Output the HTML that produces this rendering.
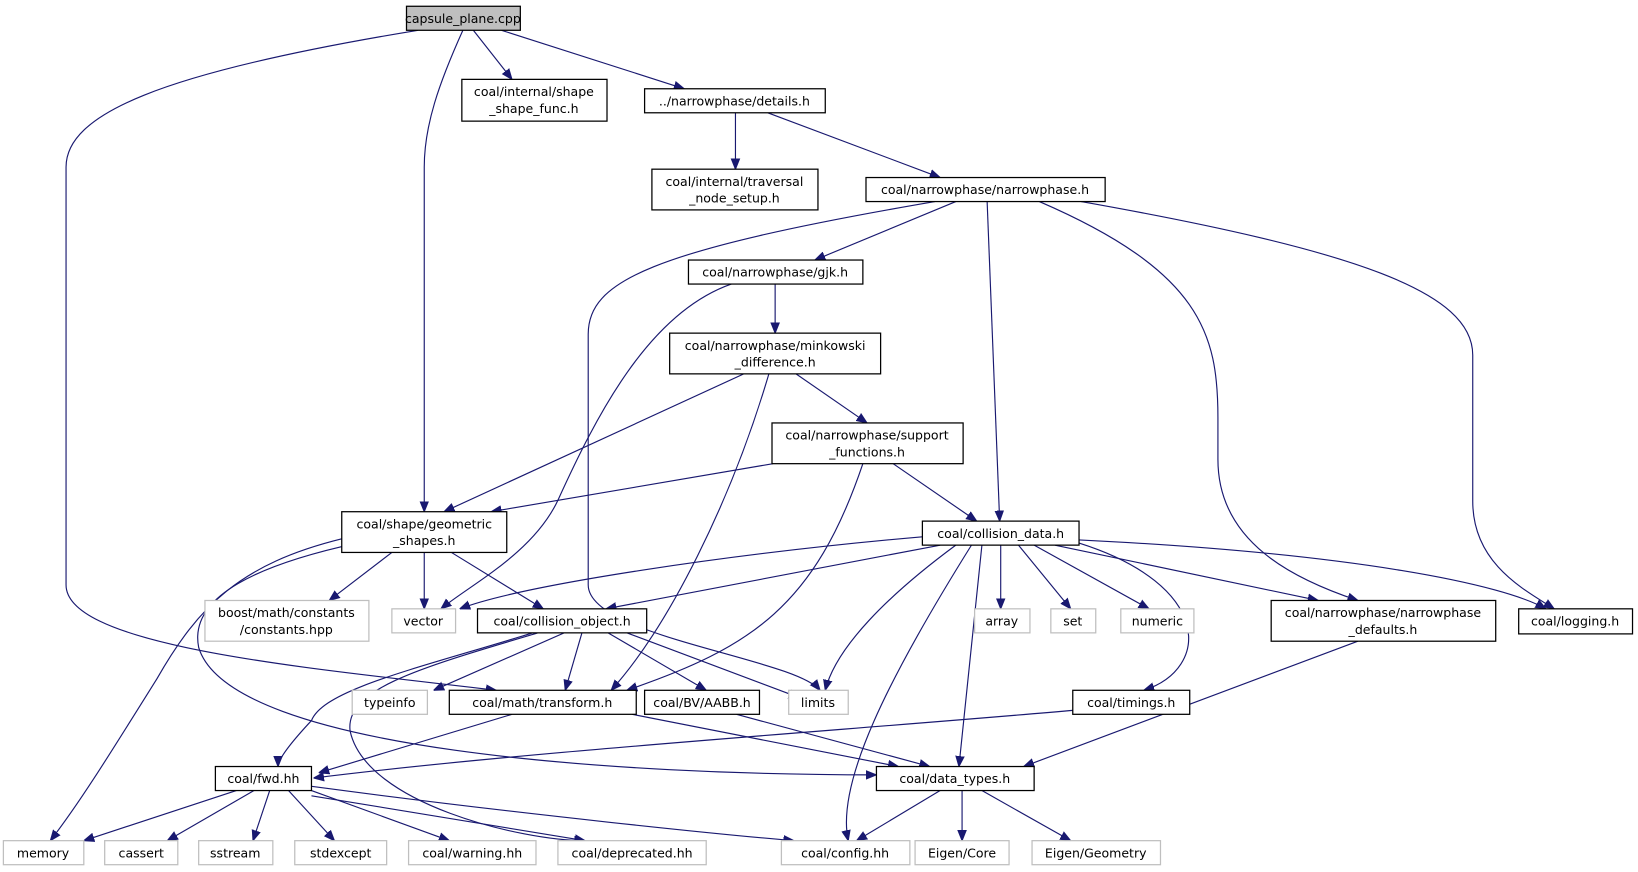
<!DOCTYPE html>
<html><head><meta charset="utf-8"><style>
html,body{margin:0;padding:0;background:#fff;}
svg{display:block;}
text{font-family:"DejaVu Sans","Liberation Sans",sans-serif;font-size:12px;fill:#000;text-anchor:middle;}
.n{fill:#fff;stroke:#000;stroke-width:1.2;}
.g{fill:#fff;stroke:#bfbfbf;stroke-width:1.2;}
.r{fill:#bfbfbf;stroke:#000;stroke-width:1.2;}
path.e{fill:none;stroke:#191970;stroke-width:1.1;marker-end:url(#a);}
</style></head><body>
<svg width="1638" height="872" viewBox="0 0 1568 835" xmlns="http://www.w3.org/2000/svg">
<defs><marker id="a" viewBox="0 0 10 10" refX="10" refY="5" markerWidth="10" markerHeight="10" markerUnits="userSpaceOnUse" orient="auto"><path d="M0,1 L10,5 L0,9 z" fill="#191970" stroke="#191970"/></marker></defs>

<path class="e" d="M453,29 L490,76"/>
<path class="e" d="M480,29 L655,85"/>
<path class="e" d="M443,29 C420,80 406,120 406,160 L406,490"/>
<path class="e" d="M400,29 C150,70 63,110 63,160 L63,560 C63,620 300,640 475,661"/>
<path class="e" d="M704,108 L704,162"/>
<path class="e" d="M735,108 L900,170"/>
<path class="e" d="M915,193 L780,249"/>
<path class="e" d="M895,193 C620,240 563,270 563,320 L563,560 C563,610 760,630 785,661"/>
<path class="e" d="M945,193 L957,499"/>
<path class="e" d="M995,193 C1150,260 1166,320 1166,400 L1166,440 C1166,520 1240,555 1300,575"/>
<path class="e" d="M1035,193 C1300,240 1410,280 1410,340 L1410,480 C1410,540 1460,565 1488,583"/>
<path class="e" d="M742,272 L742,319"/>
<path class="e" d="M700,272 C620,300 570,400 534,479 C510,530 450,560 422,583"/>
<path class="e" d="M712,358 L425,490"/>
<path class="e" d="M736,358 C700,480 640,600 585,661"/>
<path class="e" d="M762,358 L830,405"/>
<path class="e" d="M740,444 L470,490"/>
<path class="e" d="M826,444 C780,580 720,620 600,661"/>
<path class="e" d="M855,444 L935,499"/>
<path class="e" d="M327,516 C230,540 190,580 150,650 C100,730 75,770 48,805"/>
<path class="e" d="M375,529 L315,575"/>
<path class="e" d="M406,529 L406,583"/>
<path class="e" d="M432,529 L520,583"/>
<path class="e" d="M342,520 C250,540 180,570 190,620 C220,720 600,742 839,742"/>
<path class="e" d="M883,514 C700,530 500,560 440,583"/>
<path class="e" d="M900,522 L580,583"/>
<path class="e" d="M915,522 C850,570 800,620 790,661"/>
<path class="e" d="M930,522 C850,650 800,750 812,805"/>
<path class="e" d="M940,522 L918,734"/>
<path class="e" d="M958,522 L958,583"/>
<path class="e" d="M975,522 L1025,583"/>
<path class="e" d="M990,522 L1100,583"/>
<path class="e" d="M1010,522 L1262,575"/>
<path class="e" d="M1033,517 C1300,530 1440,560 1480,583"/>
<path class="e" d="M1033,520 C1160,560 1160,640 1095,661"/>
<path class="e" d="M510,606 C400,640 310,660 298,690 C270,720 266,730 266,734"/>
<path class="e" d="M540,606 L415,661"/>
<path class="e" d="M557,606 L541,661"/>
<path class="e" d="M582,606 L676,661"/>
<path class="e" d="M600,606 L765,668"/>
<path class="e" d="M515,606 C400,640 330,660 335,700 C350,770 500,805 560,805"/>
<path class="e" d="M490,684 L305,740"/>
<path class="e" d="M605,684 L860,734"/>
<path class="e" d="M705,684 L890,734"/>
<path class="e" d="M1030,680 C800,700 500,720 300,745"/>
<path class="e" d="M1300,614 L980,734"/>
<path class="e" d="M226,757 L80,805"/>
<path class="e" d="M243,757 L160,805"/>
<path class="e" d="M258,757 L242,805"/>
<path class="e" d="M276,757 L320,805"/>
<path class="e" d="M298,757 L430,805"/>
<path class="e" d="M298,762 L560,805"/>
<path class="e" d="M298,753 C500,780 700,800 760,805"/>
<path class="e" d="M900,757 L820,805"/>
<path class="e" d="M921,757 L921,805"/>
<path class="e" d="M940,757 L1025,805"/>

<rect class="r" x="389" y="6" width="109" height="23"/><text x="443" y="22">capsule_plane.cpp</text>
<rect class="n" x="442" y="76" width="139" height="40"/><text x="511" y="92">coal/internal/shape</text><text x="511" y="108">_shape_func.h</text>
<rect class="n" x="617" y="85" width="173" height="23"/><text x="703" y="101">../narrowphase/details.h</text>
<rect class="n" x="624" y="162" width="159" height="39"/><text x="703" y="178">coal/internal/traversal</text><text x="703" y="194">_node_setup.h</text>
<rect class="n" x="829" y="170" width="229" height="23"/><text x="943" y="186">coal/narrowphase/narrowphase.h</text>
<rect class="n" x="659" y="249" width="167" height="23"/><text x="742" y="265">coal/narrowphase/gjk.h</text>
<rect class="n" x="641" y="319" width="202" height="39"/><text x="742" y="335">coal/narrowphase/minkowski</text><text x="742" y="351">_difference.h</text>
<rect class="n" x="739" y="405" width="183" height="39"/><text x="830" y="421">coal/narrowphase/support</text><text x="830" y="437">_functions.h</text>
<rect class="n" x="327" y="490" width="158" height="39"/><text x="406" y="506">coal/shape/geometric</text><text x="406" y="522">_shapes.h</text>
<rect class="n" x="883" y="499" width="150" height="23"/><text x="958" y="515">coal/collision_data.h</text>
<rect class="g" x="196" y="575" width="157" height="39"/><text x="274" y="591">boost/math/constants</text><text x="274" y="607">/constants.hpp</text>
<rect class="g" x="375" y="583" width="61" height="23"/><text x="405" y="599">vector</text>
<rect class="n" x="457" y="583" width="162" height="23"/><text x="538" y="599">coal/collision_object.h</text>
<rect class="g" x="933" y="583" width="53" height="23"/><text x="959" y="599">array</text>
<rect class="g" x="1006" y="583" width="43" height="23"/><text x="1027" y="599">set</text>
<rect class="g" x="1073" y="583" width="70" height="23"/><text x="1108" y="599">numeric</text>
<rect class="n" x="1217" y="575" width="215" height="39"/><text x="1324" y="591">coal/narrowphase/narrowphase</text><text x="1324" y="607">_defaults.h</text>
<rect class="n" x="1454" y="583" width="109" height="24"/><text x="1508" y="599">coal/logging.h</text>
<rect class="g" x="337" y="661" width="72" height="23"/><text x="373" y="677">typeinfo</text>
<rect class="n" x="430" y="661" width="179" height="23"/><text x="519" y="677">coal/math/transform.h</text>
<rect class="n" x="617" y="661" width="110" height="23"/><text x="672" y="677">coal/BV/AABB.h</text>
<rect class="g" x="755" y="661" width="57" height="23"/><text x="783" y="677">limits</text>
<rect class="n" x="1027" y="661" width="112" height="23"/><text x="1083" y="677">coal/timings.h</text>
<rect class="n" x="206" y="734" width="92" height="23"/><text x="252" y="750">coal/fwd.hh</text>
<rect class="n" x="839" y="734" width="151" height="23"/><text x="914" y="750">coal/data_types.h</text>
<rect class="g" x="3" y="805" width="77" height="23"/><text x="41" y="821">memory</text>
<rect class="g" x="100" y="805" width="70" height="23"/><text x="135" y="821">cassert</text>
<rect class="g" x="190" y="805" width="71" height="23"/><text x="225" y="821">sstream</text>
<rect class="g" x="282" y="805" width="88" height="23"/><text x="326" y="821">stdexcept</text>
<rect class="g" x="391" y="805" width="122" height="23"/><text x="452" y="821">coal/warning.hh</text>
<rect class="g" x="534" y="805" width="142" height="23"/><text x="605" y="821">coal/deprecated.hh</text>
<rect class="g" x="748" y="805" width="123" height="23"/><text x="809" y="821">coal/config.hh</text>
<rect class="g" x="876" y="805" width="90" height="23"/><text x="921" y="821">Eigen/Core</text>
<rect class="g" x="988" y="805" width="123" height="23"/><text x="1049" y="821">Eigen/Geometry</text>
</svg>
</body></html>
